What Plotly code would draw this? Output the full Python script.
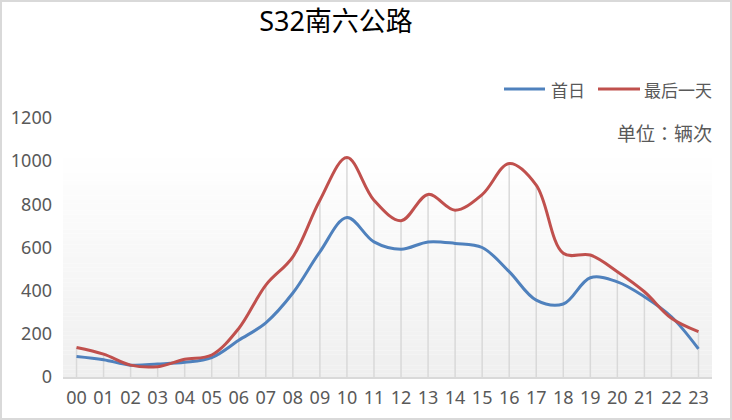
import plotly.graph_objects as go

hours = ["00", "01", "02", "03", "04", "05", "06", "07", "08", "09", "10", "11",
         "12", "13", "14", "15", "16", "17", "18", "19", "20", "21", "22", "23"]
first_day = [95, 80, 55, 60, 68, 90, 170, 251, 389, 580, 739, 626,
             592, 626, 619, 600, 488, 356, 338, 460, 441, 372, 279, 130]
last_day = [137, 106, 55, 48, 82, 102, 225, 426, 557, 819, 1017, 819,
            724, 846, 773, 845, 989, 889, 573, 565, 488, 395, 272, 210]
y_ticks = [0, 200, 400, 600, 800, 1000, 1200]

W, H = 732, 420
ML, MR, MT, MB = 63, 20, 118, 43
PW, PH = W - ML - MR, H - MT - MB


def px(x):
    return (x - ML) / PW


def py(y):
    return (H - MB - y) / PH


TXT = "#595959"
FONT = "Noto Sans, Noto Sans CJK SC, sans-serif"
CJK = "Noto Sans CJK SC, sans-serif"
CJK_JP = "Noto Sans CJK JP, Noto Sans CJK SC, sans-serif"
BLUE = "#4F81BD"
RED = "#C0504D"

fig = go.Figure()

# drop lines
dx, dy = [], []
for h, a, b in zip(hours, first_day, last_day):
    dx += [h, h, None]
    dy += [0, max(a, b), None]
fig.add_trace(go.Scatter(x=dx, y=dy, mode="lines", line=dict(color="#d9d9d9", width=1.5),
                         hoverinfo="skip", showlegend=False))

fig.add_trace(go.Scatter(x=hours, y=first_day, name="首日", mode="lines",
                         line=dict(color=BLUE, width=3, shape="spline", smoothing=1),
                         showlegend=False))
fig.add_trace(go.Scatter(x=hours, y=last_day, name="最后一天", mode="lines",
                         line=dict(color=RED, width=3, shape="spline", smoothing=1),
                         showlegend=False))

shapes = []
# gradient background
top_val = 1050
n = 60
for i in range(n):
    y0 = top_val * i / n
    y1 = top_val * (i + 1) / n
    t = (i + 0.5) / n
    c = int(round(239 + (255 - 239) * t))
    shapes.append(dict(type="rect", xref="paper", yref="y", x0=0, x1=1, y0=y0, y1=y1,
                       fillcolor=f"rgb({c},{c},{c})", line=dict(width=0), layer="below"))
# outer border
shapes.append(dict(type="rect", xref="paper", yref="paper",
                   x0=px(1), x1=px(731), y0=py(419), y1=py(1),
                   line=dict(color="#d9d9d9", width=2), fillcolor="rgba(0,0,0,0)"))
# legend samples
shapes.append(dict(type="line", xref="paper", yref="paper", x0=px(504), x1=px(545),
                   y0=py(89), y1=py(89), line=dict(color=BLUE, width=3)))
shapes.append(dict(type="line", xref="paper", yref="paper", x0=px(598), x1=px(640),
                   y0=py(89), y1=py(89), line=dict(color=RED, width=3)))

annotations = [
    dict(text="首日", xref="paper", yref="paper", x=px(549), y=py(89), xanchor="left",
         yanchor="middle", showarrow=False, font=dict(family=CJK, size=17, color=TXT)),
    dict(text="最后一天", xref="paper", yref="paper", x=px(642), y=py(89), xanchor="left",
         yanchor="middle", showarrow=False, font=dict(family=CJK, size=17, color=TXT)),
    dict(text="单位：辆次", xref="paper", yref="paper", x=px(714), y=py(132), xanchor="right",
         yanchor="middle", showarrow=False, font=dict(family=CJK_JP, size=19, color=TXT)),
]

fig.update_layout(
    width=W, height=H,
    margin=dict(l=ML, r=MR, t=MT, b=MB, pad=0),
    paper_bgcolor="white", plot_bgcolor="white",
    title=dict(text="S32南六公路", xref="container", yref="container",
               x=336 / W, y=1 - 22 / H, xanchor="center", yanchor="middle",
               font=dict(family=FONT, size=27, color="black")),
    shapes=shapes, annotations=annotations,
    showlegend=False,
    xaxis=dict(type="category", categoryorder="array", categoryarray=hours,
               range=[-0.5, 23.5], showgrid=False, zeroline=False,
               showline=True, linecolor="#d9d9d9", linewidth=1.5,
               ticks="", tickfont=dict(family=FONT, size=18, color=TXT),
               ticklabelstandoff=4),
    yaxis=dict(range=[0, 1200], tickvals=y_ticks, showgrid=False, zeroline=False,
               showline=False, ticks="", tickfont=dict(family=FONT, size=18, color=TXT),
               ticklabelstandoff=10),
)

fig.write_html("out.html")
